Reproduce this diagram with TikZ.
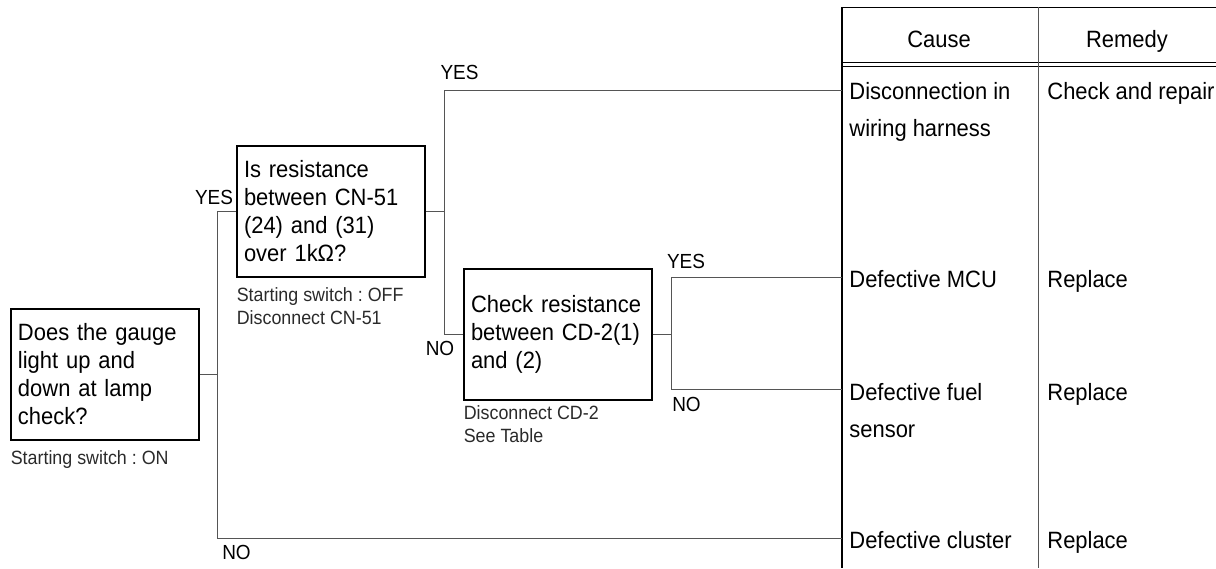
\documentclass[tikz,border=0pt]{standalone}
\usepackage{fontspec}
\setmainfont{Liberation Sans}[FakeStretch=0.93]
\usepackage{tikz}
\usetikzlibrary{positioning}
\definecolor{LineGray}{HTML}{555555}
\definecolor{NoteGray}{HTML}{2A2A2A}
\tikzset{
  check/.style={rectangle, draw=black, line width=0.6pt, text width=87pt,
                inner xsep=3.5pt, minimum height=65.5pt, align=left,
                font=\fontsize{11.8}{14}\selectfont},
  note/.style={inner sep=0pt, align=left, text=NoteGray, font=\fontsize{9.6}{11.5}\selectfont},
  answer/.style={inner sep=0pt, font=\fontsize{10.2}{10}\selectfont},
  cell/.style={inner sep=0pt, anchor=north west, align=left, font=\fontsize{11.8}{18.5}\selectfont},
  link/.style={draw=LineGray, line width=0.5pt},
}
\frenchspacing

\begin{document}
\begin{tikzpicture}[x=0.5pt, y=-0.5pt]
    \useasboundingbox (0,0) rectangle (1216,568);

    % Checks
    \node[check] (q1) at (105,374.5) {Does the gauge\\light up and\\down at lamp\\check?};
    \node[check] (q2) at (331,211.5) {Is resistance\\between CN-51\\(24) and (31)\\over 1kΩ?};
    \node[check] (q3) at (558,334.5) {Check resistance\\between CD-2(1)\\and (2)};

    \node[note, below=5pt of q1.south west, anchor=north west] (n1) {Starting switch : ON};
    \node[note, below=5pt of q2.south west, anchor=north west] (n2) {Starting switch : OFF\\Disconnect CN-51};
    \node[note, below=2.5pt of q3.south west, anchor=north west] (n3) {Disconnect CD-2\\See Table};

    % Table
    \draw[black, line width=0.5pt] (842,7) -- (1216,7) (842,62) -- (1216,62) (842,66) -- (1216,66);
    \draw[LineGray, line width=0.5pt] (1038,7) -- (1038,568);
    \draw[black, line width=0.8pt] (842,7) -- (842,568);

    \node[anchor=base, font=\fontsize{11.8}{14}\selectfont] (cause) at (939,47) {Cause};
    \node[anchor=base, font=\fontsize{11.8}{14}\selectfont] (remedy) at (1127,47) {Remedy};

    \node[cell] (c1) at (849,82) {Disconnection in\\wiring harness};
    \node[cell] (r1) at (1047,82) {Check and repair};
    \node[cell] (c2) at (849,270) {Defective MCU};
    \node[cell] (r2) at (1047,270) {Replace};
    \node[cell] (c3) at (849,383) {Defective fuel\\sensor};
    \node[cell] (r3) at (1047,383) {Replace};
    \node[cell] (c4) at (849,531) {Defective cluster};
    \node[cell] (r4) at (1047,531) {Replace};

    \coordinate (e1) at (842,90);
    \coordinate (e2) at (842,277);
    \coordinate (e3) at (842,389);
    \coordinate (e4) at (842,538);

    % Flow
    \draw[link] (q1.east) -- ++(18,0) coordinate (s1);
    \draw[link] (q2.west) -| (s1) |- (e4);
    \draw[link] (q2.east) -- ++(19,0) coordinate (s2);
    \draw[link] (e1) -| (s2) |- (q3.west);
    \draw[link] (q3.east) -- ++(19,0) coordinate (s3);
    \draw[link] (e2) -| (s3) |- (e3);

    \node[answer] (yes1) at (214,197) {YES};
    \node[answer] (yes2) at (459.5,72) {YES};
    \node[answer] (no1) at (440,348) {NO};
    \node[answer] (yes3) at (686,261) {YES};
    \node[answer] (no2) at (686.5,404) {NO};
    \node[answer] (no3) at (236.5,552) {NO};
\end{tikzpicture}
\end{document}
